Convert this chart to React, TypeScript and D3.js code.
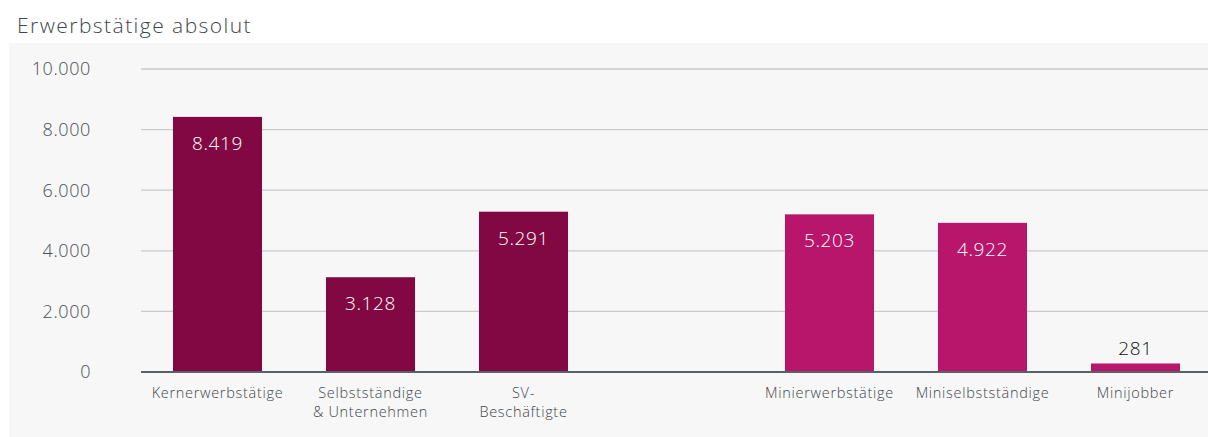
import React from "react";
import * as d3 from "d3";

const categories: string[][] = [
  ["Kernerwerbstätige"],
  ["Selbstständige", "& Unternehmen"],
  ["SV-", "Beschäftigte"],
  [],
  ["Minierwerbstätige"],
  ["Miniselbstständige"],
  ["Minijobber"],
];
const values: (number | null)[] = [8419, 3128, 5291, null, 5203, 4922, 281];
const groups: number[] = [0, 0, 0, -1, 1, 1, 1];
const valueLabels: string[] = ["8.419", "3.128", "5.291", "", "5.203", "4.922", "281"];
const yTicks: number[] = [0, 2000, 4000, 6000, 8000, 10000];
const yTickLabels: string[] = ["0", "2.000", "4.000", "6.000", "8.000", "10.000"];
const colors = ["#810843", "#b8166a"];

const W = 1208;
const H = 437;
const FONT = "'Open Sans', sans-serif";

export default function App() {
  const x = d3
    .scaleBand<number>()
    .domain(categories.map((_, i) => i))
    .range([141, 1212])
    .paddingInner(0.418)
    .paddingOuter(0.209);
  const y = d3.scaleLinear().domain([0, 10000]).range([372, 69]);
  const bw = x.bandwidth();

  return (
    <svg width={W} height={H} style={{ position: "absolute", left: 0, top: 0 }} fontFamily={FONT} fontWeight={300}>
      <rect x={0} y={0} width={W} height={H} fill="#fff" />
      <rect x={9} y={43} width={W - 9} height={H - 43} fill="#f7f7f7" />
      <text x={17} y={33} fontSize={21} letterSpacing={1.45} fill="#41464c">Erwerbstätige absolut</text>
      {yTicks.map((t, i) => (
        <g key={t}>
          {t > 0 && (
            <line x1={141} x2={W} y1={y(t)} y2={y(t)} stroke="#c8cacc" strokeWidth={1.3} />
          )}
          <text x={91} y={y(t)} dy="0.35em" textAnchor="end" fontSize={18} letterSpacing={0.6} fill="#4a4f55">
            {yTickLabels[i]}
          </text>
        </g>
      ))}
      {values.map((v, i) => {
        if (v === null) return null;
        const x0 = x(i)!;
        const top = y(v);
        const h = y(0) - top;
        const inside = h > 40;
        return (
          <g key={i}>
            <rect x={x0} y={top} width={bw} height={h} fill={colors[groups[i]]} />
            <text
              x={x0 + bw / 2}
              y={inside ? top + 33 : top - 8}
              textAnchor="middle"
              fontSize={19}
              letterSpacing={0.6}
              fill={inside ? "#ffffff" : "#111111"}
            >
              {valueLabels[i]}
            </text>
          </g>
        );
      })}
      <line x1={141} x2={W} y1={y(0)} y2={y(0)} stroke="#5a6068" strokeWidth={2} />
      {categories.map((lines, i) => (
        <text key={i} textAnchor="middle" fontSize={14.5} letterSpacing={0.7} fill="#41464c">
          {lines.map((l, j) => (
            <tspan key={j} x={x(i)! + bw / 2} y={398 + j * 19}>
              {l}
            </tspan>
          ))}
        </text>
      ))}
    </svg>
  );
}
